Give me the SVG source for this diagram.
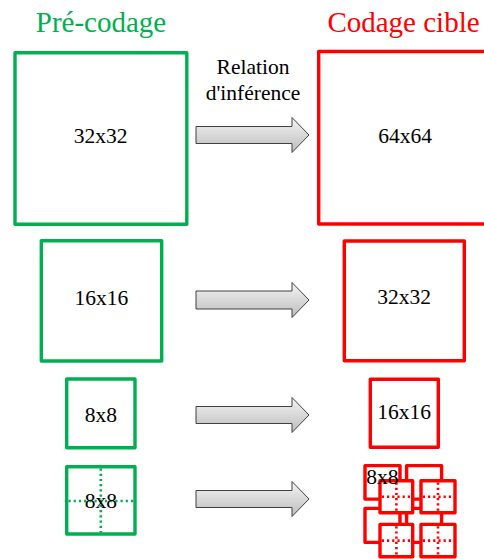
<svg xmlns="http://www.w3.org/2000/svg" width="484" height="559" viewBox="0 0 484 559">
<defs>
<linearGradient id="ag" x1="0" y1="0" x2="0" y2="1">
<stop offset="0" stop-color="#f4f4f4"/>
<stop offset="1" stop-color="#bdbdbd"/>
</linearGradient>
<style>
.g{fill:#fff;stroke:#00b050;stroke-width:3.4;stroke-linejoin:round}
.r{fill:#fff;stroke:#ff0000;stroke-width:3.4;stroke-linejoin:round}
.gd{stroke:#00b050;stroke-width:2.6;stroke-dasharray:2.2 3}
.rd{stroke:#ff0000;stroke-width:2.6;stroke-dasharray:2.2 3}
text{font-family:'Times New Roman','Liberation Serif','DejaVu Serif',serif}
.t{font-size:21.5px;fill:#000;text-anchor:middle}
.h{font-size:29px;text-anchor:middle}
.a{fill:url(#ag);stroke:#404040;stroke-width:1}
</style>
</defs>
<text class="h" x="101" y="32" fill="#00b050">Pré-codage</text>
<text class="h" x="403.5" y="32" fill="#ff0000">Codage cible</text>
<text class="t" x="253" y="74">Relation</text>
<text class="t" x="253" y="100">d'inférence</text>

<g id="g32">
<rect class="g" x="15" y="52.7" width="171.8" height="171.6"/>
<text class="t" x="100.5" y="143">32x32</text>
</g>
<g id="r64">
<rect class="r" x="318.7" y="51.5" width="171.8" height="172.5"/>
<text class="t" x="405" y="143">64x64</text>
</g>
<g id="g16">
<rect class="g" x="41.3" y="240.7" width="120.4" height="120.3"/>
<text class="t" x="101.3" y="305">16x16</text>
</g>
<g id="r32">
<rect class="r" x="344.3" y="241" width="120" height="119.8"/>
<text class="t" x="404.2" y="304">32x32</text>
</g>
<g id="g8">
<rect class="g" x="66.7" y="379" width="68.3" height="68.7"/>
<text class="t" x="100.8" y="421.5">8x8</text>
</g>
<g id="r16">
<rect class="r" x="370.3" y="379.3" width="68" height="68"/>
<text class="t" x="404" y="419">16x16</text>
</g>
<g id="g8split">
<rect class="g" x="66.7" y="466.7" width="68.3" height="67.3"/>
<line class="gd" x1="100.8" y1="468.5" x2="100.8" y2="532.5"/>
<line class="gd" x1="68.5" y1="501" x2="133.5" y2="501"/>
<text class="t" x="100.8" y="508.3">8x8</text>
</g>
<g id="rcluster">
<rect class="r" x="365" y="465.6" width="35" height="33.5"/>
<rect class="r" x="406.6" y="465.6" width="35" height="33.5"/>
<rect class="r" x="365" y="508.4" width="35" height="34"/>
<rect class="r" x="406.6" y="508.4" width="35" height="34"/>
<rect class="r" x="380" y="480.7" width="32.7" height="32"/>
<line class="rd" x1="396.4" y1="482.5" x2="396.4" y2="511"/>
<line class="rd" x1="381.8" y1="496.8" x2="411" y2="496.8"/>
<rect class="r" x="421" y="480.7" width="34" height="32"/>
<line class="rd" x1="438" y1="482.5" x2="438" y2="511"/>
<line class="rd" x1="422.8" y1="496.8" x2="453.2" y2="496.8"/>
<rect class="r" x="380" y="524.4" width="32.7" height="32.3"/>
<line class="rd" x1="396.4" y1="526.2" x2="396.4" y2="555"/>
<line class="rd" x1="381.8" y1="540.6" x2="411" y2="540.6"/>
<rect class="r" x="421" y="524.4" width="34" height="32.3"/>
<line class="rd" x1="438" y1="526.2" x2="438" y2="555"/>
<line class="rd" x1="422.8" y1="540.6" x2="453.2" y2="540.6"/>
<text class="t" x="366.3" y="484.3" style="text-anchor:start">8x8</text>
</g>

<g id="connectors">
<polygon class="a" points="196,126.5 292,126.5 292,117.5 309,135 292,152.5 292,143.5 196,143.5"/>
<polygon class="a" points="196,291 292,291 292,282.5 309,300 292,317.5 292,309 196,309"/>
<polygon class="a" points="196,406.5 292,406.5 292,397.5 309,415 292,432.5 292,423.5 196,423.5"/>
<polygon class="a" points="196,490.5 292,490.5 292,481.5 309,499 292,516.5 292,507.5 196,507.5"/>
</g>
</svg>
